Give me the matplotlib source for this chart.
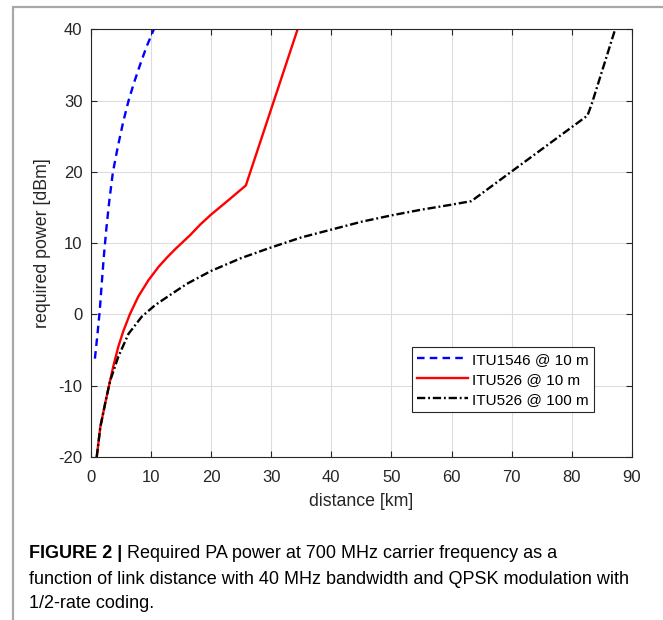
import numpy as np
import matplotlib.pyplot as plt
from matplotlib.patches import Rectangle

# curves: distance [km] / required power [dBm]
itu1546_10_x = [0.7, 1.1, 1.5, 1.85, 2.2, 2.6, 3.1, 3.7, 4.5, 5.4, 6.3, 7.2, 8.2, 9.3, 10.5]
itu1546_10_y = [-6.2, -3.0, 0.5, 4.5, 8.3, 12.0, 16.0, 20.0, 23.5, 27.0, 30.0, 32.5, 35.0, 37.6, 40.0]

itu526_10_x = [1.0, 1.6, 2.4, 3.2, 3.75, 4.6, 5.4, 6.5, 7.9, 9.6, 11.3, 12.7, 14.1, 16.5, 18.2,
               20.0, 23.0, 25.8, 34.4]
itu526_10_y = [-20.0, -15.8, -12.5, -9.4, -7.3, -4.5, -2.4, 0.0, 2.5, 4.8, 6.7, 8.0, 9.2, 11.1, 12.6,
               14.0, 16.1, 18.1, 40.0]

itu526_100_x = [1.0, 1.6, 2.4, 3.2, 4.6, 6.3, 8.5, 10.7, 13.5, 16.0, 20.0, 25.0, 30.0,
                35.0, 40.0, 45.0, 50.0, 55.0, 60.0, 63.3, 82.6, 83.3, 87.2]
itu526_100_y = [-20.0, -15.8, -12.5, -9.4, -5.9, -2.7, -0.3, 1.3, 2.9, 4.3, 6.1, 7.9, 9.4,
                10.8, 11.9, 13.0, 13.9, 14.7, 15.4, 15.9, 27.9, 29.5, 40.0]

legend_labels = ['ITU1546 @ 10 m', 'ITU526 @ 10 m', 'ITU526 @ 100 m']
x_ticks = [0, 10, 20, 30, 40, 50, 60, 70, 80, 90]
y_ticks = [-20, -10, 0, 10, 20, 30, 40]

caption_bold = 'FIGURE 2 |'
caption_rest = ' Required PA power at 700 MHz carrier frequency as a'
caption_lines = ['function of link distance with 40 MHz bandwidth and QPSK modulation with',
                 '1/2-rate coding.']

plt.rcParams['font.family'] = ['Liberation Sans', 'DejaVu Sans']
plt.rcParams['axes.unicode_minus'] = False

fig = plt.figure(figsize=(6.63, 6.2), dpi=100)
fig.patches.append(Rectangle((13 / 663, -0.1), 1.2, 1.1 - 7 / 620, transform=fig.transFigure,
                             fill=False, edgecolor='#a8a8a8', linewidth=1.6))

ax = fig.add_axes([0.1368, 0.2629, 0.8164, 0.6898])
ax.plot(itu1546_10_x, itu1546_10_y, color='#0000ff', linestyle='--', dashes=(3.2, 2.2),
        linewidth=1.7, label=legend_labels[0])
ax.plot(itu526_10_x, itu526_10_y, color='#ff0000', linestyle='-', linewidth=1.7,
        label=legend_labels[1])
ax.plot(itu526_100_x, itu526_100_y, color='black', linestyle='-.', dashes=(3.5, 1.2, 0.8, 1.2),
        linewidth=1.7, label=legend_labels[2])

ax.set_xlim(0, 90)
ax.set_ylim(-20, 40)
ax.set_xticks(x_ticks)
ax.set_yticks(y_ticks)
ax.grid(True, color='#dcdcdc', linewidth=0.8)
ax.set_axisbelow(True)
ax.tick_params(direction='in', length=4, width=0.8, top=True, right=True,
               labelsize=12, colors='#262626')
ax.tick_params(axis='x', pad=9)
ax.tick_params(axis='y', pad=6)
for s in ax.spines.values():
    s.set_color('#262626')
    s.set_linewidth(0.8)

ax.set_xlabel('distance [km]', fontsize=12.8, color='#262626', labelpad=6)
ax.set_ylabel('required power [dBm]', fontsize=12.8, color='#262626', labelpad=5)

leg = ax.legend(loc='lower right', bbox_to_anchor=(0.93, 0.105), fontsize=11,
                handlelength=3.3, handletextpad=0.3, borderpad=0.35, labelspacing=0.4,
                fancybox=False, framealpha=1, edgecolor='#262626', borderaxespad=0)
leg.get_frame().set_linewidth(0.8)

# caption
t = fig.text(29 / 663, 1 - 553 / 620, caption_bold, fontsize=13, fontweight='bold',
             va='center', ha='left')
fig.canvas.draw()
bb = t.get_window_extent()
fig.text(bb.x1 / 663, 1 - 553 / 620, caption_rest, fontsize=13, va='center', ha='left')
fig.text(29 / 663, 1 - 579 / 620, caption_lines[0], fontsize=13, va='center', ha='left')
fig.text(29 / 663, 1 - 604 / 620, caption_lines[1], fontsize=13, va='center', ha='left')

fig.savefig('out.png', dpi=100)
